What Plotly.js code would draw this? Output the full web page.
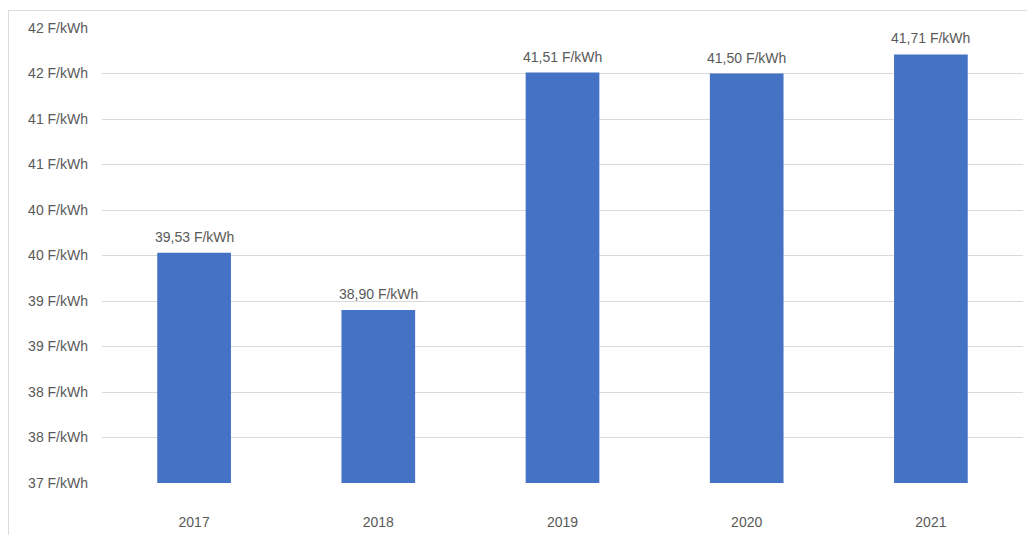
<!DOCTYPE html>
<html>
<head>
<meta charset="utf-8">
<script src="https://cdn.plot.ly/plotly-3.0.1.min.js"></script>
<style>
  html, body { margin: 0; padding: 0; background: #ffffff; overflow: hidden; }
  #chart { width: 1027px; height: 535px; }
  #frame { position: absolute; left: 8px; top: 10px; width: 1030px; height: 540px;
           border: 1px solid #dcdcdc; pointer-events: none; box-sizing: border-box; }
</style>
</head>
<body>
<div id="chart"></div>
<div id="frame"></div>
<script>
const years = ['2017', '2018', '2019', '2020', '2021'];
const prices = [39.53, 38.90, 41.51, 41.50, 41.71];
const priceLabels = ['39,53 F/kWh', '38,90 F/kWh', '41,51 F/kWh', '41,50 F/kWh', '41,71 F/kWh'];
const yTickValues = [37, 37.5, 38, 38.5, 39, 39.5, 40, 40.5, 41, 41.5, 42];
const yTickLabels = ['37 F/kWh', '38 F/kWh', '38 F/kWh', '39 F/kWh', '39 F/kWh', '40 F/kWh',
                     '40 F/kWh', '41 F/kWh', '41 F/kWh', '42 F/kWh', '42 F/kWh'];
const axisFloor = 37;

const textColor = '#595959';
const fontFamily = '"Liberation Sans", Arial, sans-serif';

const trace = {
  type: 'bar',
  x: years,
  y: prices.map(v => v - axisFloor),
  base: axisFloor,
  marker: { color: '#4472C4' },
  width: 0.4,
  hoverinfo: 'skip'
};

const annotations = years.map((yr, i) => ({
  x: i, y: prices[i], xref: 'x', yref: 'y',
  text: priceLabels[i], showarrow: false,
  yanchor: 'bottom', yshift: 6,
  font: { family: fontFamily, size: 14, color: textColor }
}));

const layout = {
  width: 1027, height: 535,
  margin: { l: 102, r: 4, t: 28, b: 52 },
  paper_bgcolor: '#ffffff', plot_bgcolor: '#ffffff',
  showlegend: false,
  font: { family: fontFamily, size: 14, color: textColor },
  xaxis: {
    type: 'category',
    range: [-0.5, years.length - 0.5],
    showgrid: false, zeroline: false, showline: false,
    ticks: '', ticklabelstandoff: 29,
    tickfont: { family: fontFamily, size: 14, color: textColor }
  },
  yaxis: {
    range: [37, 42],
    tickvals: yTickValues, ticktext: yTickLabels,
    showgrid: true, gridcolor: '#d9d9d9', gridwidth: 1,
    zeroline: false, showline: false, ticks: '',
    ticklabelstandoff: 13,
    tickfont: { family: fontFamily, size: 14, color: textColor }
  },
  annotations: annotations
};

Plotly.newPlot('chart', [trace], layout, { displayModeBar: false, staticPlot: true });
</script>
</body>
</html>
